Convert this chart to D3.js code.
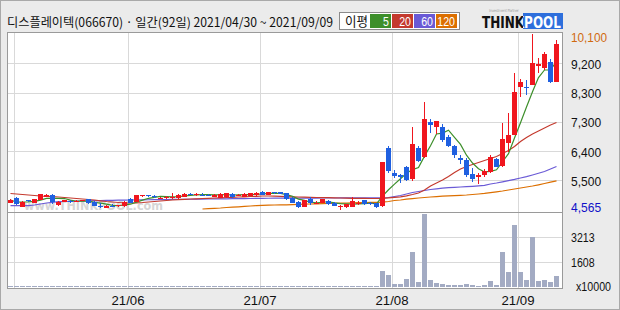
<!DOCTYPE html>
<html>
<head>
<meta charset="utf-8">
<script src="https://cdn.jsdelivr.net/npm/d3@7"></script>
<style>
  html, body { margin: 0; padding: 0; background: #ebebeb; }
  svg { display: block; }
</style>
</head>
<body>
<div id="chart"></div>
<script>
// trading days 2021/04/30 ~ 2021/09/09 (MMDD)
const dates = ("0430 " +
  "0503 0504 0506 0507 0510 0511 0512 0513 0514 0517 0518 0520 0521 0524 0525 0526 0527 0528 0531 " +
  "0601 0602 0603 0604 0607 0608 0609 0610 0611 0614 0615 0616 0617 0618 0621 0622 0623 0624 0625 0628 0629 0630 " +
  "0701 0702 0705 0706 0707 0708 0709 0712 0713 0714 0715 0716 0719 0720 0721 0722 0723 0726 0727 0728 0729 0730 " +
  "0802 0803 0804 0805 0806 0809 0810 0811 0812 0813 0817 0818 0819 0820 0823 0824 0825 0826 0827 0830 0831 " +
  "0901 0902 0903 0906 0907 0908 0909").split(" ");

const open = [
  4780, 4918, 4653, 4855, 4780, 4865, 4969, 5022, 4707, 4811,
  4843, 4830, 4833, 4896, 4811, 4691, 4628, 4691, 4665, 4660,
  4896, 4817, 4981, 5013, 5000, 4912, 4934, 4912, 4918, 4969,
  5054, 5035, 5030, 5028, 4975, 4937, 4950, 5054, 5010, 4969,
  4991, 5013, 5126, 5022, 5117, 5110, 5076, 4937, 4811, 4653,
  4887, 4760, 4780, 4833, 4780, 4644, 4634, 4653, 4760, 4865,
  4770, 4760, 4660, 6514, 5726, 5653, 5915, 5517, 6514, 6230,
  7334, 7177, 7177, 6861, 6568, 6180, 6126, 5685, 5600, 5653,
  5757, 6158, 5937, 6672, 6915, 8419, 8440, 8492, 9091, 9037,
  9208, 8596
];
const high = [
  4900, 4950, 4830, 4870, 4900, 5060, 5050, 5040, 4830, 4880,
  4870, 4870, 4880, 4910, 4820, 4770, 4700, 4740, 4720, 4830,
  4920, 5020, 5030, 5035, 5010, 4960, 5000, 5070, 5040, 5070,
  5090, 5100, 5070, 5050, 5040, 5070, 5090, 5070, 5040, 5070,
  5090, 5110, 5140, 5120, 5130, 5125, 5090, 4960, 4830, 4880,
  4960, 4830, 4900, 4850, 4790, 4707, 4740, 4950, 4830, 4880,
  4800, 4780, 6050, 6577, 5811, 5675, 5950, 7177, 6580, 7946,
  7410, 7370, 7260, 6900, 6599, 6284, 6200, 5864, 5726, 5830,
  6284, 6200, 7303, 7618, 8880, 8671, 8649, 10100, 9334, 9542,
  9302, 9911
];
const low = [
  4770, 4710, 4640, 4800, 4770, 4850, 4950, 4750, 4690, 4800,
  4780, 4810, 4820, 4750, 4660, 4610, 4610, 4640, 4650, 4650,
  4760, 4800, 4960, 4970, 4940, 4900, 4900, 4900, 4910, 4960,
  5010, 4990, 4990, 4990, 4960, 4930, 4940, 4940, 4990, 4960,
  4980, 5000, 5010, 5010, 5060, 5050, 4860, 4770, 4600, 4640,
  4720, 4740, 4770, 4720, 4670, 4565, 4620, 4640, 4720, 4720,
  4700, 4610, 4640, 5720, 5549, 5390, 5450, 5473, 6060, 6200,
  6968, 6946, 6700, 6540, 6180, 5999, 5600, 5442, 5369, 5600,
  5726, 5890, 5900, 6388, 6915, 8104, 8176, 8480, 8880, 8965,
  8564, 8596
];
const close = [
  4865, 4729, 4811, 4823, 4887, 5044, 5022, 4811, 4811, 4865,
  4802, 4840, 4865, 4761, 4675, 4675, 4691, 4675, 4707, 4817,
  4770, 5007, 5007, 4991, 4950, 4943, 4959, 4975, 5022, 5054,
  5030, 5050, 5015, 5010, 5022, 5054, 5076, 4950, 5025, 5054,
  5076, 5095, 5022, 5107, 5076, 5063, 4896, 4780, 4653, 4865,
  4780, 4780, 4887, 4738, 4685, 4675, 4730, 4833, 4780, 4738,
  4740, 4634, 6050, 5779, 5622, 5590, 5495, 6631, 6104, 7419,
  7230, 7356, 6757, 6568, 6284, 6126, 5653, 5527, 5653, 5789,
  6211, 5915, 6789, 6915, 8280, 8596, 8419, 9195, 9145, 9469,
  8596, 9785
];
// volume, x10000 shares
const volume = [
  60, 72, 55, 50, 58, 70, 62, 66, 54, 52,
  48, 45, 50, 60, 56, 52, 45, 44, 48, 64,
  60, 68, 48, 45, 46, 44, 45, 50, 55, 50,
  47, 48, 45, 44, 47, 52, 55, 50, 46, 48,
  52, 50, 57, 52, 47, 45, 58, 60, 66, 55,
  50, 45, 48, 50, 47, 54, 50, 57, 46, 48,
  45, 52, 1028, 771, 193, 193, 514, 2268, 343, 4691,
  450, 278, 193, 129, 129, 129, 193, 129, 64, 129,
  386, 129, 2268, 985, 3984, 985, 450, 3234, 386, 450,
  343, 707
];
const ma20 = [
  5070, 5054, 5038, 5022, 5007, 4991, 4981, 4972, 4959, 4943,
  4928, 4912, 4896, 4880, 4865, 4839, 4817, 4802, 4786, 4770,
  4770, 4776, 4786, 4802, 4817, 4833, 4849, 4865, 4874, 4887,
  4896, 4902, 4912, 4918, 4928, 4934, 4943, 4950, 4959, 4966,
  4975, 4981, 4991, 4991, 4984, 4978, 4972, 4966, 4959, 4953,
  4947, 4943, 4940, 4937, 4934, 4928, 4921, 4918, 4918, 4915,
  4912, 4912, 4918, 4934, 4950, 4966, 4997, 5038, 5085, 5180,
  5306, 5401, 5495, 5606, 5732, 5842, 5921, 5984, 6047, 6110,
  6174, 6237, 6331, 6426, 6552, 6710, 6836, 6946, 7041, 7136,
  7230, 7309
];
const ma60 = [
  4685, 4685, 4685, 4685, 4707, 4738, 4770, 4792, 4811, 4817,
  4820, 4827, 4833, 4836, 4843, 4846, 4852, 4855, 4858, 4861,
  4865, 4867, 4870, 4872, 4875, 4877, 4879, 4882, 4884, 4887,
  4889, 4891, 4894, 4896, 4898, 4901, 4903, 4905, 4908, 4910,
  4912, 4918, 4919, 4920, 4921, 4921, 4922, 4923, 4924, 4924,
  4925, 4926, 4927, 4927, 4928, 4929, 4930, 4930, 4931, 4932,
  4933, 4933, 4934, 4943, 4975, 5007, 5054, 5101, 5133, 5164,
  5196, 5218, 5237, 5253, 5265, 5275, 5284, 5297, 5312, 5328,
  5369, 5401, 5439, 5477, 5514, 5559, 5603, 5653, 5707, 5764,
  5842, 5921
];
const ma120 = [
  null, null, null, null, null, null, null, null, null, null,
  null, null, null, null, null, null, null, null, null, null,
  null, null, null, null, null, null, null, null, null, null,
  null, null, 4581, 4590, 4603, 4612, 4628, 4638, 4650, 4663,
  4675, 4688, 4697, 4704, 4707, 4710, 4713, 4720, 4726, 4732,
  4738, 4745, 4751, 4754, 4761, 4767, 4770, 4776, 4783, 4786,
  4789, 4792, 4795, 4817, 4849, 4865, 4890, 4909, 4928, 4943,
  4959, 4972, 4984, 4994, 5003, 5013, 5022, 5038, 5054, 5073,
  5098, 5123, 5148, 5180, 5212, 5243, 5275, 5306, 5344, 5385,
  5426, 5470
];

const priceMin = 4565, priceMax = 10100;
const priceTicks = [5487.5, 6410, 7332.5, 8255, 9177.5];
const priceTickLabels = ["5,500", "6,400", "7,300", "8,300", "9,200"];
const volMax = 4819;
const volTicks = [1608, 3213];
const monthTicks = ["0503", "0601", "0701", "0802", "0901"];
const monthTickLabels = ["", "21/06", "21/07", "21/08", "21/09"];
const maLabels = ["5", "20", "60", "120"];
const maColors = ["#3d8f2b", "#c43a2e", "#6a5ad6", "#dc6f00"];

const width = 620, height = 310;
const plot = { left: 7, right: 562, top: 32, mid: 212, bottom: 288 };
const numFont = "'Liberation Sans', Arial, sans-serif";
const upColor = "#f0161e", downColor = "#1f60e0";

// narrow digits like the original bitmap font
const numLen = s => s.replace(/,/g, "").length * 5.9 + (s.match(/,/g) || []).length * 6.5;

const svg = d3.select("#chart").append("svg")
  .attr("width", width)
  .attr("height", height);

svg.append("rect")
  .attr("x", 0.5).attr("y", 0.5)
  .attr("width", width - 1).attr("height", height - 1)
  .attr("fill", "#ebebeb")
  .attr("stroke", "#a9a9a9");

// plot background
svg.append("rect")
  .attr("x", plot.left).attr("y", plot.top)
  .attr("width", plot.right - plot.left).attr("height", plot.bottom - plot.top)
  .attr("fill", "#fff");

const x = d3.scaleBand()
  .domain(dates)
  .range([7.5, 559.5])
  .paddingInner(0.2)
  .paddingOuter(0.1);
const xc = d => x(d) + x.bandwidth() / 2;

const y = d3.scaleLinear().domain([priceMin, priceMax]).range([209.5, 34]);
const yv = d3.scaleLinear().domain([0, volMax]).range([287, 212]);

const grid = svg.append("g")
  .attr("stroke", "#d9d9d9")
  .attr("shape-rendering", "crispEdges");

// month lines
grid.selectAll(".vline")
  .data(monthTicks)
  .join("line")
  .attr("x1", d => Math.round(xc(d) - 2.5) + 0.5)
  .attr("x2", d => Math.round(xc(d) - 2.5) + 0.5)
  .attr("y1", plot.top)
  .attr("y2", plot.bottom);

grid.selectAll(".pline")
  .data(priceTicks)
  .join("line")
  .attr("x1", plot.left).attr("x2", plot.right)
  .attr("y1", d => Math.round(y(d)) + 0.5)
  .attr("y2", d => Math.round(y(d)) + 0.5);

grid.selectAll(".vgl")
  .data(volTicks)
  .join("line")
  .attr("x1", plot.left).attr("x2", plot.right)
  .attr("y1", d => Math.round(yv(d)) + 0.5)
  .attr("y2", d => Math.round(yv(d)) + 0.5);

// watermark
svg.append("text")
  .attr("x", 24).attr("y", 210)
  .attr("font-family", "'DejaVu Sans', sans-serif")
  .attr("font-weight", "bold")
  .attr("font-size", 13)
  .attr("textLength", 139)
  .attr("lengthAdjust", "spacingAndGlyphs")
  .attr("fill", "#d6d6d6")
  .text("www.THINKPOOL.com");

// volume bars
svg.append("g")
  .attr("fill", "#a3abc3")
  .attr("shape-rendering", "crispEdges")
  .selectAll("rect")
  .data(dates)
  .join("rect")
  .attr("x", d => Math.floor(xc(d)) - 2)
  .attr("width", 5)
  .attr("y", (d, i) => Math.min(Math.round(yv(volume[i])), 286))
  .attr("height", (d, i) => 287 - Math.min(Math.round(yv(volume[i])), 286));

// moving averages
const ma5 = close.map((c, i) => d3.mean(close.slice(Math.max(0, i - 4), i + 1)));
const maSeries = [ma5, ma20, ma60, ma120];

const line = d3.line()
  .defined(d => d[1] != null)
  .x(d => xc(d[0]))
  .y(d => y(d[1]));

[3, 2, 1, 0].forEach(k => {
  svg.append("path")
    .datum(dates.map((d, i) => [d, maSeries[k][i]]))
    .attr("fill", "none")
    .attr("stroke", maColors[k])
    .attr("stroke-width", 1.2)
    .attr("d", line);
});

// candles
const candles = svg.append("g")
  .attr("shape-rendering", "crispEdges")
  .selectAll("g")
  .data(dates)
  .join("g")
  .attr("fill", (d, i) => close[i] >= open[i] ? upColor : downColor)
  .attr("stroke", (d, i) => close[i] >= open[i] ? upColor : downColor);

candles.append("line")
  .attr("x1", d => Math.floor(xc(d)) + 0.5)
  .attr("x2", d => Math.floor(xc(d)) + 0.5)
  .attr("y1", (d, i) => y(high[i]))
  .attr("y2", (d, i) => y(low[i]));

candles.append("rect")
  .attr("stroke", "none")
  .attr("x", d => Math.floor(xc(d)) - 2)
  .attr("width", 5)
  .attr("y", (d, i) => Math.round(y(Math.max(open[i], close[i]))))
  .attr("height", (d, i) => Math.max(1, Math.round(y(Math.min(open[i], close[i]))) - Math.round(y(Math.max(open[i], close[i])))));

// frames
const frame = svg.append("g")
  .attr("fill", "none")
  .attr("stroke", "#9a9a9a")
  .attr("shape-rendering", "crispEdges");
frame.append("rect")
  .attr("x", plot.left + 0.5).attr("y", plot.top + 0.5)
  .attr("width", plot.right - plot.left).attr("height", plot.bottom - plot.top);
frame.append("line")
  .attr("x1", plot.left).attr("x2", plot.right + 0.5)
  .attr("y1", plot.mid + 0.5).attr("y2", plot.mid + 0.5);

// right axis labels
const axisText = svg.append("g")
  .attr("font-family", numFont)
  .attr("font-size", 13.5)
  .attr("dominant-baseline", "central");

const priceMaxLabel = d3.format(",")(priceMax);
axisText.append("text")
  .attr("x", 571).attr("y", y(priceMax) + 3.5)
  .attr("fill", "#d06a10")
  .attr("textLength", numLen(priceMaxLabel))
  .attr("lengthAdjust", "spacingAndGlyphs")
  .text(priceMaxLabel);

axisText.selectAll(".pt")
  .data(priceTicks)
  .join("text")
  .attr("x", 571)
  .attr("y", d => y(d) + 1)
  .attr("fill", "#111")
  .attr("textLength", (d, i) => numLen(priceTickLabels[i]))
  .attr("lengthAdjust", "spacingAndGlyphs")
  .text((d, i) => priceTickLabels[i]);

const priceMinLabel = d3.format(",")(priceMin);
axisText.append("text")
  .attr("x", 571).attr("y", y(priceMin) - 2.5)
  .attr("fill", "#1010c8")
  .attr("textLength", numLen(priceMinLabel))
  .attr("lengthAdjust", "spacingAndGlyphs")
  .text(priceMinLabel);

axisText.selectAll(".vt")
  .data(volTicks)
  .join("text")
  .attr("x", 571)
  .attr("y", d => yv(d) + 1)
  .attr("fill", "#111")
  .attr("textLength", d => numLen(String(d)))
  .attr("lengthAdjust", "spacingAndGlyphs")
  .text(d => d);

axisText.append("text")
  .attr("x", 576).attr("y", 286)
  .attr("fill", "#111")
  .attr("textLength", 35)
  .attr("lengthAdjust", "spacingAndGlyphs")
  .text("x10000");

// month labels
svg.append("g")
  .attr("font-family", numFont)
  .attr("font-size", 13.5)
  .attr("text-anchor", "middle")
  .attr("fill", "#111")
  .selectAll("text")
  .data(monthTicks)
  .join("text")
  .attr("x", d => Math.round(xc(d) - 2.5))
  .attr("y", 305)
  .attr("textLength", (d, i) => monthTickLabels[i] ? 33 : null)
  .attr("lengthAdjust", "spacingAndGlyphs")
  .text((d, i) => monthTickLabels[i]);

// title
svg.append("text")
  .attr("x", 7).attr("y", 27)
  .attr("font-family", "'Noto Sans CJK KR', sans-serif")
  .attr("font-size", 12.5)
  .attr("fill", "#111")
  .attr("textLength", 326)
  .attr("lengthAdjust", "spacingAndGlyphs")
  .text("디스플레이텍(066670) · 일간(92일) 2021/04/30 ~ 2021/09/09");

// MA legend
const legend = svg.append("g");
legend.append("rect")
  .attr("x", 339.5).attr("y", 12.5)
  .attr("width", 120).attr("height", 17)
  .attr("fill", "#fff")
  .attr("stroke", "#8a8a8a");
legend.append("text")
  .attr("x", 345).attr("y", 26)
  .attr("font-family", "'Noto Sans CJK KR', sans-serif")
  .attr("font-size", 13)
  .attr("fill", "#111")
  .attr("textLength", 23)
  .attr("lengthAdjust", "spacingAndGlyphs")
  .text("이평");
const items = legend.selectAll(".item")
  .data(maLabels)
  .join("g");
items.append("rect")
  .attr("x", (d, i) => 370 + i * 22)
  .attr("y", 14)
  .attr("width", 21)
  .attr("height", 14)
  .attr("fill", (d, i) => maColors[i]);
items.append("text")
  .attr("x", (d, i) => 389 + i * 22)
  .attr("y", 26)
  .attr("text-anchor", "end")
  .attr("font-family", numFont)
  .attr("font-size", 13.5)
  .attr("fill", "#fff")
  .attr("textLength", d => numLen(d))
  .attr("lengthAdjust", "spacingAndGlyphs")
  .text(d => d);

// logo: one text, black over grey, white over the blue box
const grad = svg.append("defs").append("linearGradient")
  .attr("id", "logoFill")
  .attr("gradientUnits", "userSpaceOnUse")
  .attr("x1", 482).attr("x2", 563).attr("y1", 0).attr("y2", 0);
grad.append("stop").attr("offset", 0.506).attr("stop-color", "#111");
grad.append("stop").attr("offset", 0.506).attr("stop-color", "#fff");

const logo = svg.append("g");
logo.append("rect")
  .attr("x", 523).attr("y", 13)
  .attr("width", 40).attr("height", 16)
  .attr("fill", "#2e6fdc");
logo.append("text")
  .attr("x", 482).attr("y", 28)
  .attr("font-family", "'DejaVu Sans', sans-serif")
  .attr("font-weight", 900)
  .attr("font-size", 15)
  .attr("textLength", 79)
  .attr("lengthAdjust", "spacingAndGlyphs")
  .attr("fill", "url(#logoFill)")
  .text("THINKPOOL");
logo.append("text")
  .attr("x", 489).attr("y", 12)
  .attr("font-family", "'DejaVu Sans', sans-serif")
  .attr("font-size", 4)
  .attr("textLength", 30)
  .attr("fill", "#aaa")
  .text("Investment Partner");
</script>
</body>
</html>
